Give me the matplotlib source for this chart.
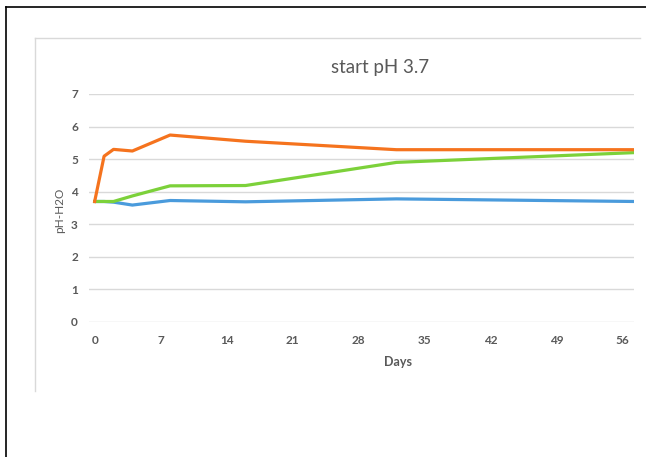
import matplotlib
matplotlib.use("Agg")
import matplotlib.pyplot as plt
from matplotlib.lines import Line2D

days = [0, 1, 2, 4, 8, 16, 32, 57.2]
orange = [3.7, 5.09, 5.3, 5.25, 5.74, 5.55, 5.29, 5.29]
green = [3.7, 3.7, 3.7, 3.87, 4.18, 4.19, 4.9, 5.2]
blue = [3.7, 3.7, 3.68, 3.59, 3.73, 3.69, 3.78, 3.7]
xticks = [0, 7, 14, 21, 28, 35, 42, 49, 56]
yticks = [0, 1, 2, 3, 4, 5, 6, 7]

W, H = 646, 457
plt.rcParams['font.family'] = ['Lato', 'DejaVu Sans']
fig = plt.figure(figsize=(W / 100, H / 100), dpi=100)

def fx(px):
    return px / W

def fy(py):
    return 1 - py / H

ax = fig.add_axes([fx(89), fy(322), fx(634) - fx(89), fy(94) - fy(322)])
ax.plot(days, blue, color='#4A9BDC', lw=2.3, solid_joinstyle='round', zorder=3)
ax.plot(days, green, color='#7CD13A', lw=2.3, solid_joinstyle='round', zorder=3)
ax.plot(days, orange, color='#F5731E', lw=2.3, solid_joinstyle='round', zorder=4)

ax.set_xlim(-0.6, 57.2)
ax.set_ylim(0, 7)
ax.set_xticks(xticks)
ax.set_yticks(yticks)
ax.set_xticklabels([str(t) for t in xticks])
ax.set_yticklabels([str(t) for t in yticks])
for s in ax.spines.values():
    s.set_visible(False)
ax.tick_params(axis='both', length=0, labelsize=8.5, labelcolor='#595959')
ax.tick_params(axis='x', pad=9)
ax.tick_params(axis='y', pad=8)
for lab in ax.get_xticklabels() + ax.get_yticklabels():
    lab.set_fontweight('bold')
ax.grid(axis='y', color='#D9D9D9', lw=1)
ax.set_axisbelow(True)

fig.text(fx(380), fy(67), 'start pH 3.7', ha='center', va='center',
         fontsize=13.5, color='#595959')
fig.text(fx(398), fy(362), 'Days', ha='center', va='center',
         fontsize=9, color='#595959', fontweight='bold')
fig.text(fx(60), fy(210), 'pH-H2O', ha='center', va='center',
         fontsize=8.5, color='#595959', rotation=90)

# outer black frame (left and top)
fig.add_artist(Line2D([fx(6), fx(6)], [fy(7), 0], color='black', lw=1.2))
fig.add_artist(Line2D([fx(6), 1], [fy(7), fy(7)], color='black', lw=1.2))
# chart area border (left and top)
fig.add_artist(Line2D([fx(35), fx(35)], [fy(38), fy(391)], color='#D9D9D9', lw=1))
fig.add_artist(Line2D([fx(35), fx(640)], [fy(38), fy(38)], color='#D9D9D9', lw=1))

fig.savefig('out.png', dpi=100)
